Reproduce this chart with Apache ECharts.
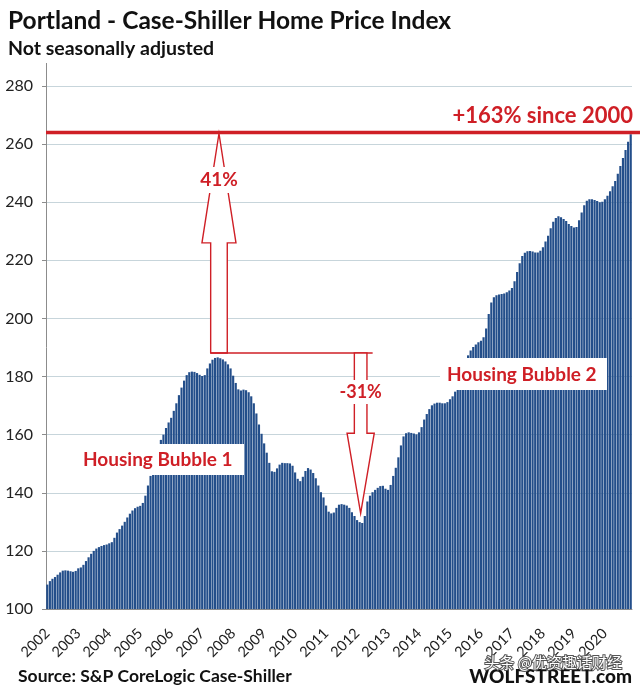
<!DOCTYPE html>
<html><head><meta charset="utf-8">
<script src="https://cdn.jsdelivr.net/npm/echarts@6/dist/echarts.min.js"></script>
<style>html,body{margin:0;padding:0;background:#fff}#c{width:640px;height:692px}</style>
</head><body><div id="c"></div>
<script>
// ---- data (Portland Case-Shiller HPI, NSA, monthly) ----
const yearLabels = ['2002','2003','2004','2005','2006','2007','2008','2009','2010','2011','2012','2013','2014','2015','2016','2017','2018','2019','2020'];
const v2002 = [108.4,109.6,110.4,111.0,111.8,112.6,113.2,113.3,113.2,113.0,112.8,113.1];
const v2003 = [114.0,114.3,115.2,116.5,117.8,119.0,120.0,120.8,121.3,121.7,122.0,122.2];
const v2004 = [122.6,123.0,124.5,126.3,127.5,128.7,130.0,131.5,132.8,133.9,134.7,135.2];
const v2005 = [135.5,136.5,139.0,142.5,145.8,148.6,151.5,155.0,158.2,160.0,162.3,164.2];
const v2006 = [165.8,168.2,170.8,173.6,176.2,178.6,180.5,181.5,181.7,181.6,181.2,180.6];
const v2007 = [180.2,180.5,182.8,184.5,185.8,186.4,186.6,186.3,185.9,185.2,184.2,182.8];
const v2008 = [180.3,177.8,175.6,175.2,175.5,175.3,174.6,173.2,170.8,167.3,163.5,160.3];
const v2009 = [157.0,153.8,150.3,147.4,147.2,148.4,149.7,150.3,150.2,150.2,150.1,149.3];
const v2010 = [147.0,144.8,144.0,145.5,147.5,148.5,148.0,146.8,145.0,142.5,140.2,138.4];
const v2011 = [135.6,133.5,132.9,133.2,134.8,135.9,136.1,135.9,135.6,134.8,133.3,132.0];
const v2012 = [130.6,129.9,129.6,132.0,137.0,139.0,140.2,141.0,141.7,142.3,142.4,141.4];
const v2013 = [141.0,142.7,145.8,148.6,152.2,156.3,159.4,160.5,160.8,160.6,160.4,160.1];
const v2014 = [160.8,162.6,165.2,167.1,168.8,170.1,170.7,171.0,171.0,170.8,170.8,171.2];
const v2015 = [172.2,173.2,174.8,177.5,180.5,183.0,185.3,187.3,189.0,190.2,191.0,191.8];
const v2016 = [192.3,193.5,196.5,201.5,205.5,207.3,208.0,208.2,208.4,208.6,209.0,209.6];
const v2017 = [210.5,212.8,216.0,219.0,221.5,222.6,223.1,223.2,223.0,222.7,222.7,223.3];
const v2018 = [224.5,226.5,228.5,231.0,233.3,234.6,235.2,234.8,234.2,233.5,232.5,231.8];
const v2019 = [231.3,231.5,233.8,236.5,239.0,240.5,241.0,241.0,240.8,240.4,240.0,240.2];
const v2020 = [241.0,242.2,243.8,245.5,247.3,249.8,252.5,255.2,258.0,260.8,263.4];

const yMin = 100, yMax = 280, yStep = 20;
// annotation levels
const topLevel = 264;          // "+163% since 2000" line
const bracketLevel = 188.1;    // horizontal bracket
const upHeadBase = 226;
const downHeadBase = 160.5;
const downTip = 132.9;
const peakCat = '2007-07';
const troughCat = '2012-02';

const values = [].concat(v2002,v2003,v2004,v2005,v2006,v2007,v2008,v2009,v2010,v2011,v2012,v2013,v2014,v2015,v2016,v2017,v2018,v2019,v2020);
const categories = [];
yearLabels.forEach(y => { for (let m = 1; m <= 12; m++) categories.push(y + '-' + String(m).padStart(2,'0')); });
categories.length = values.length;

const RED = '#cf1f26';
const FONT = 'Lato, "Open Sans", sans-serif';

const chart = echarts.init(document.getElementById('c'), null, {renderer:'canvas'});
chart.setOption({
  backgroundColor:'#ffffff',
  animation:false,
  grid:{left:46, right:8, top:86, bottom:83},
  xAxis:{
    type:'category', data:categories, boundaryGap:true,
    axisLine:{lineStyle:{color:'#8c8c8c', width:1}},
    axisTick:{interval:(i)=>i%12===0, length:5, lineStyle:{color:'#8c8c8c'}},
    axisLabel:{interval:(i)=>i%12===0, formatter:(v)=>v.slice(0,4), rotate:45, margin:22,
      fontSize:14.5, color:'#1e1e1e', fontFamily:FONT}
  },
  yAxis:{
    type:'value', min:yMin, max:yMax, interval:yStep,
    axisLine:{show:true, lineStyle:{color:'#8c8c8c'}},
    axisTick:{show:true, length:4, lineStyle:{color:'#8c8c8c'}},
    axisLabel:{margin:13, fontSize:16, color:'#222', fontFamily:FONT},
    splitLine:{lineStyle:{color:'#c7d5db', width:1}}
  },
  series:[{type:'bar', data:values, barCategoryGap:'16%', silent:true,
    itemStyle:{color:'#234e8a'}}]
});

const P = (cat, val) => chart.convertToPixel({gridIndex:0}, [cat, val]);
const [pk, yTop] = P(peakCat, topLevel);
const cx1 = pk + 1.3;
const yBar = P(peakCat, bracketLevel)[1];
const yB1 = P(peakCat, upHeadBase)[1];
const cx2 = P(troughCat, downTip)[0] + 1;
const yB2 = P(troughCat, downHeadBase)[1];
const yT2 = P(troughCat, downTip)[1];

const arrowStyle = {stroke:RED, lineWidth:1.4, fill:'#ffffff'};
const g = [
  // y-axis line extension above top gridline
  {type:'line', shape:{x1:46.5,y1:63,x2:46.5,y2:86}, style:{stroke:'#8c8c8c', lineWidth:1}},
  // red top line
  {type:'line', shape:{x1:46, y1:yTop, x2:640, y2:yTop}, style:{stroke:RED, lineWidth:3.5}, z:10},
  {type:'text', style:{text:'+163% since 2000', x:633, y:yTop-17, textAlign:'right', textVerticalAlign:'middle',
    font:'bold 22px ' + FONT, fill:RED}, z:10},
  // up arrow
  {type:'polygon', shape:{points:[[cx1-8.3,yBar],[cx1-8.3,yB1],[cx1-17,yB1],[cx1,yTop+1],[cx1+17,yB1],[cx1+8.3,yB1],[cx1+8.3,yBar]]}, style:arrowStyle, z:9},
  // bracket
  {type:'line', shape:{x1:cx1-8.3, y1:yBar, x2:cx2+12, y2:yBar}, style:{stroke:RED, lineWidth:1.4}, z:9},
  // down arrow
  {type:'polygon', shape:{points:[[cx2-6.3,yBar],[cx2-6.3,yB2],[cx2-13.6,yB2],[cx2,yT2],[cx2+13.6,yB2],[cx2+6.3,yB2],[cx2+6.3,yBar]]}, style:arrowStyle, z:9},
  // 41%
  {type:'rect', shape:{x:cx1-18.5, y:167, width:37, height:26}, style:{fill:'#ffffff'}, z:11},
  {type:'text', style:{text:'41%', x:cx1, y:180, textAlign:'center', textVerticalAlign:'middle', font:'bold 19px ' + FONT, fill:RED}, z:12},
  // -31%
  {type:'rect', shape:{x:cx2-21, y:380, width:42, height:24}, style:{fill:'#ffffff'}, z:11},
  {type:'text', style:{text:'-31%', x:cx2, y:392, textAlign:'center', textVerticalAlign:'middle', font:'bold 18px ' + FONT, fill:RED}, z:12},
  // Housing bubble labels
  {type:'rect', shape:{x:81, y:444, width:163, height:31}, style:{fill:'#ffffff'}, z:11},
  {type:'text', style:{text:'Housing Bubble 1', x:83, y:460, textAlign:'left', textVerticalAlign:'middle', font:'bold 19px ' + FONT, fill:RED}, z:12},
  {type:'rect', shape:{x:440, y:358, width:167, height:32}, style:{fill:'#ffffff'}, z:11},
  {type:'text', style:{text:'Housing Bubble 2', x:447, y:375, textAlign:'left', textVerticalAlign:'middle', font:'bold 19px ' + FONT, fill:RED}, z:12},
  // titles
  {type:'text', style:{text:'Portland - Case-Shiller Home Price Index', x:8, y:21, textVerticalAlign:'middle', font:'bold 24.5px ' + FONT, fill:'#111'}},
  {type:'text', style:{text:'Not seasonally adjusted', x:8, y:49, textVerticalAlign:'middle', font:'bold 19.5px ' + FONT, fill:'#111'}},
  {type:'text', style:{text:'Source: S&P CoreLogic Case-Shiller', x:18, y:676, textVerticalAlign:'middle', font:'bold 17.5px ' + FONT, fill:'#111'}},
  {type:'text', style:{text:'WOLFSTREET.com', x:632, y:677, textAlign:'right', textVerticalAlign:'middle', font:'900 19px ' + FONT, fill:'#111'}},
  {type:'text', style:{text:'头条 @优资趣话财经', x:622, y:662, textAlign:'right', textVerticalAlign:'middle', font:'15px "Noto Sans CJK SC"', fill:'#ffffff', stroke:'#555', lineWidth:2}, z:20}
];
chart.setOption({graphic:g});
</script></body></html>
